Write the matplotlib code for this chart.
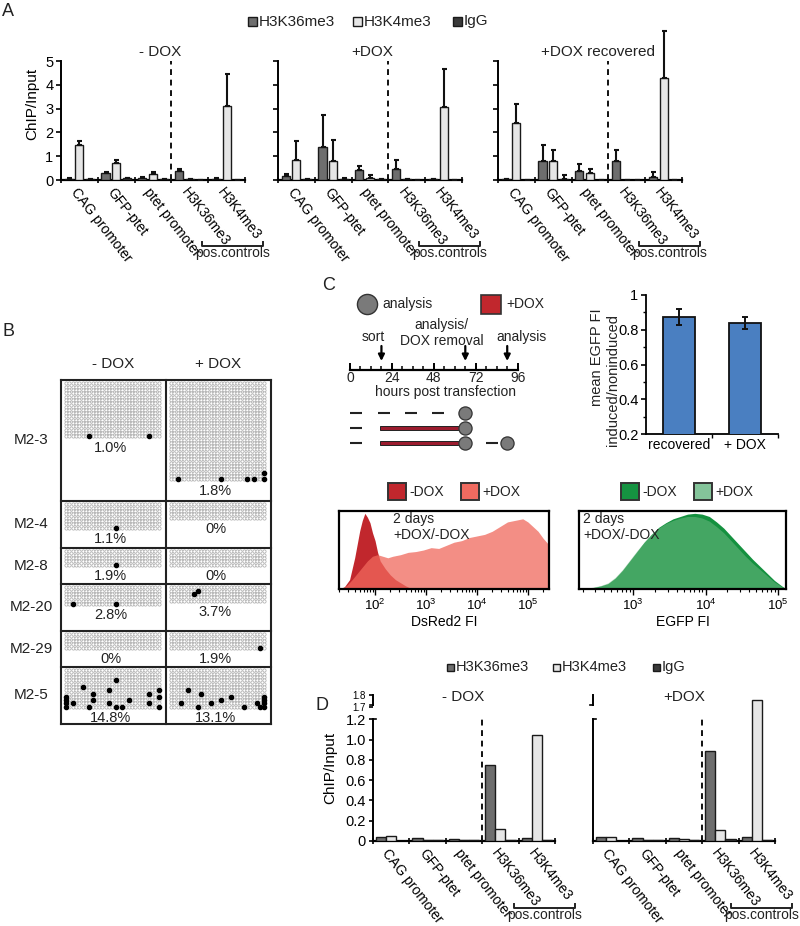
import numpy as np
import matplotlib
matplotlib.use("Agg")
import matplotlib.pyplot as plt
from matplotlib.patches import Rectangle

plt.rcParams['font.family'] = ['Liberation Sans', 'DejaVu Sans']
plt.rcParams['mathtext.fontset'] = 'custom'
plt.rcParams['mathtext.rm'] = 'Liberation Sans'
plt.rcParams['mathtext.it'] = 'Liberation Sans:italic'
plt.rcParams['mathtext.bf'] = 'Liberation Sans:bold'
plt.rcParams['mathtext.default'] = 'regular'
plt.rcParams['axes.linewidth'] = 1.3

# ---------------- DATA ----------------
regions = ["CAG promoter", "GFP-ptet", "ptet promoter", "H3K36me3", "H3K4me3"]
mark_names = ["H3K36me3", "H3K4me3", "IgG"]
mark_colors = ["#6e6e6e", "#e6e6e6", "#3a3a3a"]

# Panel A (ChIP/Input, mean with upper error)
a_titles = ["- DOX", "+DOX", "+DOX recovered"]
a_minus_h36 = [0.05, 0.30, 0.10, 0.38, 0.05]
a_minus_h36_err = [0.02, 0.04, 0.02, 0.10, 0.02]
a_minus_h4 = [1.46, 0.72, 0.26, 0.04, 3.12]
a_minus_h4_err = [0.18, 0.12, 0.09, 0.0, 1.35]
a_minus_igg = [0.03, 0.07, 0.03, 0.02, 0.02]
a_minus_igg_err = [0.01, 0.03, 0.02, 0.0, 0.0]

a_plus_h36 = [0.16, 1.38, 0.44, 0.45, 0.04]
a_plus_h36_err = [0.08, 1.37, 0.14, 0.38, 0.02]
a_plus_h4 = [0.86, 0.78, 0.08, 0.03, 3.05]
a_plus_h4_err = [0.76, 0.90, 0.14, 0.0, 1.62]
a_plus_igg = [0.04, 0.05, 0.05, 0.02, 0.02]
a_plus_igg_err = [0.0, 0.02, 0.0, 0.0, 0.0]

a_rec_h36 = [0.04, 0.78, 0.36, 0.78, 0.14]
a_rec_h36_err = [0.01, 0.70, 0.32, 0.46, 0.21]
a_rec_h4 = [2.38, 0.78, 0.28, 0.02, 4.27]
a_rec_h4_err = [0.82, 0.46, 0.17, 0.0, 2.0]
a_rec_igg = [0.02, 0.04, 0.02, 0.01, 0.01]
a_rec_igg_err = [0.0, 0.17, 0.0, 0.0, 0.0]

# Panel B (bisulfite methylation)
b_rows = ["M2-3", "M2-4", "M2-8", "M2-20", "M2-29", "M2-5"]
b_cols = ["- DOX", "+ DOX"]
b_pct = [["1.0%", "1.8%"], ["1.1%", "0%"], ["1.9%", "0%"],
         ["2.8%", "3.7%"], ["0%", "1.9%"], ["14.8%", "13.1%"]]
b_clones = [[17, 30], [8, 5], [5, 5], [6, 5], [5, 5], [12, 12]]
b_cpg = 29
b_meth = [
    [[(16, 7), (16, 25)], [(29, 2), (29, 15), (29, 23), (29, 25), (27, 28), (29, 28)]],
    [[(7, 15)], []],
    [[(4, 15)], []],
    [[(5, 2), (5, 15)], [(1, 8), (2, 7)]],
    [[], [(4, 27)]],
    [[(3, 15), (5, 5), (7, 8), (6, 13), (7, 25), (6, 28), (8, 0), (9, 0), (10, 0), (11, 0),
      (10, 2), (9, 8), (10, 13), (11, 15), (11, 17), (9, 19), (10, 25), (11, 28), (8, 28), (11, 7)],
     [(6, 5), (7, 9), (8, 18), (9, 15), (10, 12), (10, 3), (11, 22), (9, 28), (10, 28),
      (11, 28), (11, 27), (10, 26), (8, 28), (11, 8)]],
]

# Panel C timeline (hours)
tl_major = [0, 24, 48, 72, 96]
tl_minor = list(range(0, 97, 6))
tl_events = [18, 66, 90]
tl_event_labels = ["sort", "analysis/\nDOX removal", "analysis"]
tl_row1_dashes = [(0, 7), (16, 23), (31.5, 38.5), (47, 54)]
tl_row2_dashes = [(0, 7)]
tl_row3_dashes = [(0, 7), (66, 70), (78, 85)]
tl_dox_span = (17, 66)
tl_row_analysis = [[66], [66], [66, 90]]

# Panel C bar chart
egfp_groups = ["recovered", "+ DOX"]
egfp_ratio = [0.875, 0.84]
egfp_err = [0.045, 0.035]

# Panel C histograms (log10 fluorescence, % of max)
dsred_log_minus = [1.3, 1.4, 1.5, 1.6, 1.7, 1.75, 1.8, 1.85, 1.9, 1.95, 2.0, 2.05, 2.1, 2.2,
                   2.3, 2.4, 2.5, 2.6, 2.7, 2.8]
dsred_minus = [0, 3, 12, 40, 75, 88, 97, 92, 85, 72, 62, 47, 36, 26, 18, 12, 8, 4, 1, 0]
dsred_log_plus = [1.35, 1.45, 1.55, 1.65, 1.75, 1.85, 1.95, 2.05, 2.15, 2.25, 2.35, 2.5, 2.65,
                  2.8, 2.95, 3.1, 3.25, 3.4, 3.55, 3.7, 3.85, 4.0, 4.15, 4.3, 4.45, 4.6, 4.75,
                  4.9, 5.0, 5.1, 5.2, 5.3, 5.42]
dsred_plus = [0, 5, 12, 20, 28, 36, 42, 44, 42, 40, 42, 44, 47, 48, 50, 53, 52, 56, 60, 62, 66,
              68, 70, 74, 80, 86, 88, 90, 86, 80, 74, 65, 56]
egfp_log = [2.35, 2.45, 2.55, 2.65, 2.75, 2.85, 2.95, 3.05, 3.15, 3.25, 3.35, 3.45, 3.55, 3.65,
            3.75, 3.85, 3.95, 4.05, 4.15, 4.25, 4.35, 4.45, 4.55, 4.65, 4.75, 4.85, 4.95, 5.05, 5.1]
egfp_minus = [0.5, 2, 4, 7, 14, 24, 36, 48, 60, 70, 79, 85, 90, 93, 96, 97, 96, 93, 86, 78, 68,
              58, 48, 38, 29, 20, 11, 4, 1]
egfp_plus = [1, 2.5, 4.5, 8, 15, 25, 37, 49, 60, 70, 78, 84, 88, 91, 93, 93, 91, 87, 80, 72, 62,
             52, 42, 33, 25, 17, 9, 3, 1]

# Panel D (single measurement)
d_titles = ["- DOX", "+DOX"]
d_minus_h36 = [0.04, 0.025, 0.02, 0.75, 0.03]
d_minus_h4 = [0.045, 0.01, 0.01, 0.115, 1.05]
d_minus_igg = [0.003, 0.005, 0.005, 0.01, 0.005]
d_plus_h36 = [0.04, 0.025, 0.025, 0.89, 0.04]
d_plus_h4 = [0.035, 0.012, 0.015, 0.11, 1.76]
d_plus_igg = [0.003, 0.005, 0.005, 0.015, 0.005]

# ---------------- LAYOUT HELPERS ----------------
W, H = 800, 926
fig = plt.figure(figsize=(W / 100, H / 100), dpi=100)


def rect(x0, y0, x1, y1):
    return [x0 / W, 1 - y1 / H, (x1 - x0) / W, (y1 - y0) / H]


EDGE = "#1a1a1a"


def chip_bars(ax, series, errors, width, offset):
    x = np.arange(len(regions)) + 0.5
    for k, (vals, col) in enumerate(zip(series, mark_colors)):
        kw = {}
        if errors is not None:
            e = errors[k]
            kw = dict(yerr=[np.zeros(len(e)), e],
                      error_kw=dict(elinewidth=1.5, capsize=1.8, capthick=1.5, ecolor="#111111"))
        ax.bar(x + (k - 1) * offset, vals, width, color=col, edgecolor=EDGE,
               linewidth=1.0, zorder=3, **kw)


def style_chip_axes(ax, label_shift):
    for s in ["top", "right"]:
        ax.spines[s].set_visible(False)
    ax.spines["left"].set_linewidth(1.4)
    ax.spines["bottom"].set_linewidth(1.6)
    ax.set_xlim(0, len(regions))
    ax.set_xticks(np.arange(len(regions)) + 0.5 - label_shift)
    ax.set_xticklabels(regions)
    ax.set_xticks(np.arange(len(regions) + 1), minor=True)
    ax.tick_params(axis="x", which="major", length=0, pad=7, labelsize=10)
    ax.tick_params(axis="x", which="minor", length=5, width=1.2, direction="inout")
    plt.setp(ax.get_xticklabels(), rotation=-52, ha="left", va="center",
             rotation_mode="anchor")


# ---------------- PANEL A ----------------
a_x0 = [61, 278, 498]
a_sets = [
    ([a_minus_h36, a_minus_h4, a_minus_igg], [a_minus_h36_err, a_minus_h4_err, a_minus_igg_err]),
    ([a_plus_h36, a_plus_h4, a_plus_igg], [a_plus_h36_err, a_plus_h4_err, a_plus_igg_err]),
    ([a_rec_h36, a_rec_h4, a_rec_igg], [a_rec_h36_err, a_rec_h4_err, a_rec_igg_err]),
]
for i, (series, errs) in enumerate(a_sets):
    ax = fig.add_axes(rect(a_x0[i], 27.7, a_x0[i] + 184, 180))
    ax.patch.set_alpha(0)
    chip_bars(ax, series, errs, 0.22, 0.29)
    ax.set_ylim(0, 6.4)
    style_chip_axes(ax, 0.17)
    ax.spines["left"].set_bounds(0, 5)
    ax.set_yticks(range(6))
    ax.tick_params(axis="y", length=3.5, width=1.2, labelsize=10.5, pad=2)
    if i > 0:
        ax.set_yticklabels([])
    else:
        ax.set_ylabel("ChIP/Input", fontsize=11, labelpad=4)
    ax.plot([3, 3], [0, 5], ls=(0, (3, 2.4)), color="#111111", lw=1.4, zorder=4)

# ---------------- PANEL D ----------------


def fwd(y):
    y = np.asarray(y, float)
    return np.where(y <= 1.2, y, np.where(y <= 1.7, 1.2 + (y - 1.2) * 0.24,
                                          1.32 + (y - 1.7) * 1.2))


def inv(v):
    v = np.asarray(v, float)
    return np.where(v <= 1.2, v, np.where(v <= 1.32, 1.2 + (v - 1.2) / 0.24,
                                          1.7 + (v - 1.32) / 1.2))


d_x0 = [373, 593]
d_sets = [[d_minus_h36, d_minus_h4, d_minus_igg], [d_plus_h36, d_plus_h4, d_plus_igg]]
for i, series in enumerate(d_sets):
    ax = fig.add_axes(rect(d_x0[i], 695, d_x0[i] + 182, 841))
    ax.patch.set_alpha(0)
    ax.set_yscale("function", functions=(fwd, inv))
    chip_bars(ax, series, None, 0.28, 0.28)
    ax.set_ylim(0, 1.8)
    style_chip_axes(ax, 0.17)
    ax.spines["left"].set_bounds(0, 1.2)
    ax.plot([0, 0], [1.72, 1.8], color="k", lw=1.4, clip_on=False, zorder=5)
    ax.plot([-0.08, 0.0], [1.72, 1.72], color="k", lw=1.2, clip_on=False, zorder=5)
    ax.plot([0, 0.08], [1.23, 1.23], color="k", lw=1.2, clip_on=False, zorder=5)
    ax.plot([0.0, 0.0], [1.2, 1.23], color="k", lw=1.4, clip_on=False, zorder=5)
    if i == 0:
        yt = [0, 0.2, 0.4, 0.6, 0.8, 1.0, 1.2, 1.7, 1.8]
        ax.set_yticks(yt)
        ax.set_yticklabels(["0", "0.2", "0.4", "0.6", "0.8", "1.0", "1.2", "1.7", "1.8"])
        ax.tick_params(axis="y", length=3, width=1.2, labelsize=10.5, pad=2)
        for lbl in ax.get_yticklabels()[-2:]:
            lbl.set_fontsize(7)
        ax.set_ylabel("ChIP/Input", fontsize=11, labelpad=6)
        ax.yaxis.set_minor_locator(matplotlib.ticker.NullLocator())
    else:
        ax.set_yticks([])
        ax.yaxis.set_minor_locator(matplotlib.ticker.NullLocator())
    ax.plot([3, 3], [0, 1.2], ls=(0, (3, 2.4)), color="#111111", lw=1.4, zorder=4)

# ---------------- PANEL B ----------------
axb = fig.add_axes(rect(50, 370, 285, 735))
axb.set_xlim(50, 285)
axb.set_ylim(735, 370)
axb.axis("off")
b_row_edges = [380, 501, 548, 584, 631, 667, 724]
b_col_edges = [61, 166, 271]
pitch = 3.3
for r in range(len(b_rows)):
    top = b_row_edges[r]
    for c in range(2):
        left = b_col_edges[c] + 3.5
        nrow = b_clones[r][c]
        cc, rr = np.meshgrid(np.arange(b_cpg), np.arange(nrow))
        xs = left + 1.6 + cc.ravel() * pitch
        ys = top + 3.5 + rr.ravel() * pitch
        axb.scatter(xs, ys, s=5.5, facecolors="white", edgecolors="#a8a8a8",
                    linewidths=0.5, zorder=2)
        m = b_meth[r][c]
        if m:
            mr = np.array([p[0] for p in m])
            mc = np.array([p[1] for p in m])
            axb.scatter(left + 1.6 + mc * pitch, top + 3.5 + mr * pitch, s=9,
                        color="black", zorder=3)
        ybot = top + 3.5 + (nrow - 1) * pitch + 1.5
        axb.text((b_col_edges[c] + b_col_edges[c + 1]) / 2 - 3, ybot + 10, b_pct[r][c],
                 ha="center", va="center", fontsize=10.5, color="#222222")
    axb.text(31, (b_row_edges[r] + b_row_edges[r + 1]) / 2, b_rows[r], ha="center",
             va="center", fontsize=11, color="#222222")
for y in b_row_edges:
    axb.plot([b_col_edges[0], b_col_edges[-1]], [y, y], color="#222222", lw=1.5, zorder=4)
for x in b_col_edges:
    axb.plot([x, x], [b_row_edges[0], b_row_edges[-1]], color="#222222", lw=1.5, zorder=4)
for c in range(2):
    axb.text((b_col_edges[c] + b_col_edges[c + 1]) / 2, 364, b_cols[c], ha="center",
             va="center", fontsize=11, color="#222222")

# ---------------- PANEL C: timeline ----------------
pxh = (517.7 - 350) / 96.0
axt = fig.add_axes(rect(330, 280, 560, 455))
axt.set_xlim((330 - 350) / pxh, (560 - 350) / pxh)
axt.set_ylim(455, 280)
axt.axis("off")
axt.plot([0, 96], [370, 370], color="k", lw=1.6)
axt.vlines(tl_minor, 366.5, 370, color="k", lw=1.1)
axt.vlines(tl_major, 363, 370, color="k", lw=1.4)
for h in tl_major:
    axt.text(h, 378.5, str(h), ha="center", va="center", fontsize=10, color="#222222")
axt.text(54.5, 392, "hours post transfection", ha="center", va="center", fontsize=10,
         color="#222222")
lbl_pos = [(13.2, 337), (52.5, 333), (98.0, 337)]
for h, lab, (lx, ly) in zip(tl_events, tl_event_labels, lbl_pos):
    axt.annotate("", xy=(h, 361), xytext=(h, 346),
                 arrowprops=dict(arrowstyle="-|>", color="k", lw=1.6, mutation_scale=9,
                                 shrinkA=0, shrinkB=0))
    axt.text(lx, ly, lab, ha="center", va="center", fontsize=10, color="#222222",
             linespacing=1.15)
row_y = [413, 428, 443]
for dashes, yy in zip([tl_row1_dashes, tl_row2_dashes, tl_row3_dashes], row_y):
    for a, b in dashes:
        axt.plot([a, b], [yy, yy], color="#222222", lw=1.5, solid_capstyle="butt")
for yy in row_y[1:]:
    axt.barh(yy, tl_dox_span[1] - tl_dox_span[0], left=tl_dox_span[0], height=4,
             color="#9b1c2e", edgecolor="#222222", linewidth=0.7, zorder=3)
for pts, yy in zip(tl_row_analysis, row_y):
    axt.scatter(pts, [yy] * len(pts), s=90, color="#7a7a7a", edgecolors="#333333",
                linewidths=0.9, zorder=5)

# ---------------- PANEL C: bar chart ----------------
axc = fig.add_axes(rect(646, 295, 778, 434.3))
axc.bar([0.5, 1.5], egfp_ratio, 0.47, color="#4a7fc1", edgecolor="#111111", linewidth=1.3,
        yerr=egfp_err, error_kw=dict(elinewidth=1.4, capsize=2.5, capthick=1.4,
                                     ecolor="#111111"), zorder=3)
axc.set_xlim(0, 2)
axc.set_ylim(0.2, 1.0)
for s in ["top", "right"]:
    axc.spines[s].set_visible(False)
axc.set_yticks([0.2, 0.4, 0.6, 0.8, 1.0])
axc.set_yticklabels(["0.2", "0.4", "0.6", "0.8", "1"])
axc.set_yticks([0.3, 0.5, 0.7, 0.9], minor=True)
axc.set_xticks([0.5, 1.5])
axc.set_xticklabels(egfp_groups)
axc.set_xticks([1, 2], minor=True)
axc.tick_params(axis="y", which="major", length=3.5, width=1.2, labelsize=10.5, pad=2)
axc.tick_params(axis="y", which="minor", length=2, width=1)
axc.tick_params(axis="x", which="major", length=0, labelsize=10, pad=3)
axc.tick_params(axis="x", which="minor", length=3, width=1)

# ---------------- PANEL C: histograms ----------------
axh1 = fig.add_axes(rect(339, 511, 549, 589))
axh1.fill_between(10 ** np.array(dsred_log_minus), dsred_minus, color="#c1272d", lw=0)
axh1.fill_between(10 ** np.array(dsred_log_plus), dsred_plus, color="#f0685c", alpha=0.75, lw=0)
axh1.set_xscale("log")
axh1.set_xlim(19.6, 2.6e5)
axh2 = fig.add_axes(rect(579, 511, 786, 589))
axh2.fill_between(10 ** np.array(egfp_log), egfp_minus, color="#14913f", lw=0)
axh2.fill_between(10 ** np.array(egfp_log), egfp_plus, color="#80c090", alpha=0.45, lw=0)
axh2.set_xscale("log")
axh2.set_xlim(10 ** 2.25, 10 ** 5.11)
for axh, xl in [(axh1, "DsRed2 FI"), (axh2, "EGFP FI")]:
    axh.set_ylim(0, 100)
    axh.set_yticks([])
    for s in axh.spines.values():
        s.set_linewidth(1.6)
    axh.xaxis.set_major_locator(matplotlib.ticker.FixedLocator([1e2, 1e3, 1e4, 1e5]))
    axh.tick_params(axis="x", which="major", length=4, width=1, labelsize=9.5, pad=2)
    axh.tick_params(axis="x", which="minor", length=2.5, width=0.8)
    axh.set_xlabel(xl, fontsize=10, labelpad=2)

# ---------------- OVERLAY: labels, legends ----------------
ov = fig.add_axes([0, 0, 1, 1], zorder=10)
ov.set_xlim(0, W)
ov.set_ylim(H, 0)
ov.axis("off")
ov.patch.set_alpha(0)
TXT = "#222222"

for lab, (x, y) in zip("ABCD", [(8, 12), (8, 332), (329, 285), (322, 706)]):
    ov.text(x, y, lab, fontsize=13, ha="center", va="center", color=TXT)

# A legend
for name, col, x in zip(mark_names, mark_colors, [248, 353, 453]):
    ov.add_patch(Rectangle((x, 17), 9, 9, facecolor=col, edgecolor=EDGE, lw=1.0))
    ov.text(x + 11, 21.5, name, fontsize=11, ha="left", va="center", color=TXT)
# D legend
for name, col, x in zip(mark_names, mark_colors, [447, 553, 653]):
    ov.add_patch(Rectangle((x, 663.5), 7, 7, facecolor=col, edgecolor=EDGE, lw=1.0))
    ov.text(x + 9, 667, name, fontsize=10.5, ha="left", va="center", color=TXT)

# A titles
for t, x in zip(a_titles, [160, 372, 598]):
    ov.text(x, 52, t, fontsize=11, ha="center", va="center", color=TXT)
# D titles
for t, x in zip(d_titles, [463, 684]):
    ov.text(x, 697, t, fontsize=11, ha="center", va="center", color=TXT)

# pos.controls brackets
for x0, yb in [(202, 246), (419, 246), (639, 246), (514, 908), (731, 908)]:
    ov.plot([x0, x0, x0 + 61, x0 + 61], [yb - 4, yb, yb, yb - 4], color="#222222", lw=1.4)
    ov.text(x0 + 31, yb + 7, "pos.controls", fontsize=10, ha="center", va="center", color=TXT)

# C timeline legend
ov.scatter([367], [304], s=210, color="#7a7a7a", edgecolors="#333333", linewidths=1.0)
ov.text(382, 304, "analysis", fontsize=10, ha="left", va="center", color=TXT)
ov.add_patch(Rectangle((481, 295), 20, 19, facecolor="#c1272d", edgecolor="#333333", lw=1.2))
ov.text(506, 304, "+DOX", fontsize=10, ha="left", va="center", color=TXT)

# C bar chart y label
ov.text(597, 357, "mean EGFP FI", rotation=90, fontsize=10.5, ha="center", va="center",
        color=TXT)
ov.text(613, 380, "induced/noninduced", rotation=90, fontsize=10.5, ha="center",
        va="center", color=TXT)

# histogram legends
hist_leg = [((388, 483), "#c1272d", "-DOX"), ((461, 483), "#f06b60", "+DOX"),
            ((621, 483), "#159341", "-DOX"), ((694, 483), "#84c49a", "+DOX")]
for (x, y), col, t in hist_leg:
    ov.add_patch(Rectangle((x, y), 18, 17, facecolor=col, edgecolor="#333333", lw=1.4))
    ov.text(x + 21, y + 9, t, fontsize=10, ha="left", va="center", color=TXT)
for x in [393, 583]:
    ov.text(x, 519, "2 days", fontsize=10, ha="left", va="center", color=TXT)
    ov.text(x, 535, "+DOX/-DOX", fontsize=10, ha="left", va="center", color=TXT)

fig.savefig("out.png", dpi=100)
